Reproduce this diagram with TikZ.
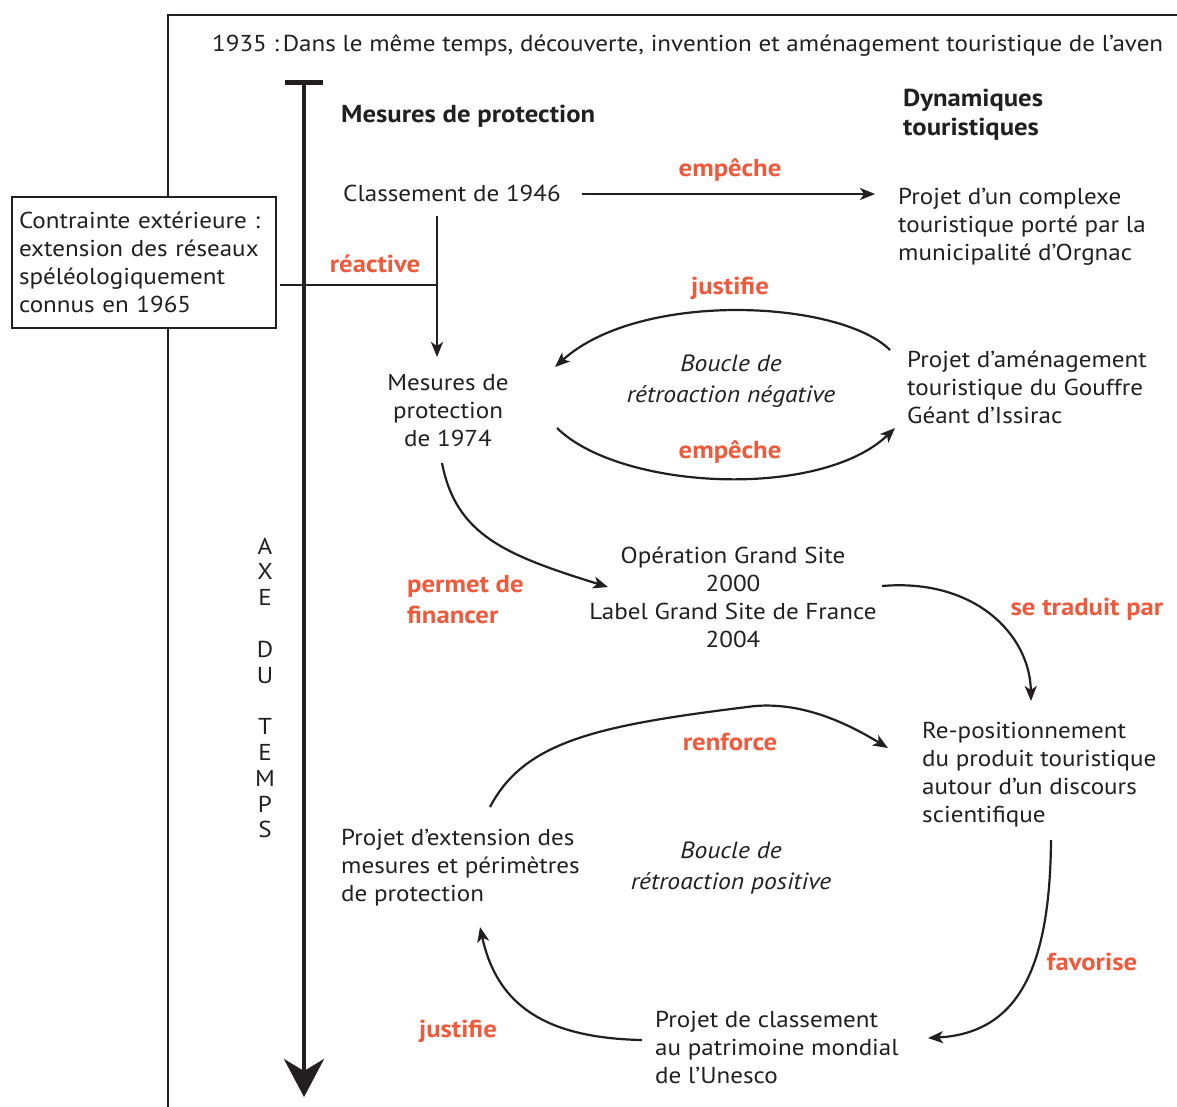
\documentclass[tikz,border=0pt]{standalone}
\usepackage{fontspec}
\setmainfont{PT Sans}[FakeStretch=1.09]
\usetikzlibrary{arrows.meta}
\definecolor{ink}{HTML}{231F20}
\definecolor{orng}{HTML}{EF5A3C}
\tikzset{
  txt/.style={font=\fontsize{23}{28}\selectfont, text=ink, align=left, inner sep=0pt},
  ctxt/.style={txt, align=center},
  itxt/.style={font=\fontsize{23.5}{31}\selectfont\itshape, text=ink, align=center, inner sep=0pt},
  head/.style={font=\fontsize{24.5}{29}\selectfont\bfseries, text=ink, align=left, inner sep=0pt},
  lbl/.style={font=\fontsize{24.5}{31}\selectfont\bfseries, text=orng, align=left, inner sep=0pt},
  conn/.style={draw=ink, line width=2.2pt, -{Stealth[length=15pt,width=12pt,inset=4pt]}},
  plain/.style={draw=ink, line width=2pt},
}
\begin{document}
\begin{tikzpicture}[x=1pt,y=-1pt]
\useasboundingbox (0,0) rectangle (1177,1106);
\fill[white] (0,0) rectangle (1177,1106);
% frame
\draw[ink, line width=1.6pt] (1180,15) -- (168,15) -- (168,1110);
% top text
\node[txt, anchor=west] (top) at (212,46) {1935 :\,Dans le même temps, découverte, invention et aménagement touristique de l'aven};
% time axis
\coordinate (tTop) at (304,82);
\coordinate (tBot) at (304,1097);
\draw[ink, line width=5pt] (285,82) -- (323,82);
\draw[ink, line width=4.5pt, -{Stealth[length=38pt,width=40pt,inset=12pt]}] (tTop) -- (tBot);
\node[font=\fontsize{23}{25.8}\selectfont, text=ink, align=center, inner sep=0pt] (axe) at (265,688) {A\\X\\E\\ \\D\\U\\ \\T\\E\\M\\P\\S};
% headings
\node[head, anchor=west] (hprot) at (341,116) {Mesures de protection};
\node[head, anchor=west] (hdyn) at (903,115) {Dynamiques\\touristiques};
% nodes
\node[txt, anchor=west] (c1946) at (343,193) {Classement de 1946};
\node[txt, anchor=west] (orgnac) at (898,227) {Projet d'un complexe\\touristique porté par la\\municipalité d'Orgnac};
\node[txt, anchor=west, draw=ink, line width=2pt, fill=white, text width=250pt, inner xsep=7pt, inner ysep=9pt, minimum height=131pt] (contr) at (11,262) {Contrainte extérieure~:\\extension des réseaux\\spéléologiquement\\connus en 1965};
\node[ctxt] (m1974) at (448,411) {Mesures de\\protection\\de 1974};
\node[txt, anchor=west] (issirac) at (907,387) {Projet d'aménagement\\touristique du Gouffre\\Géant d'Issirac};
\node[itxt] (bneg) at (731,381) {Boucle de\\rétroaction négative};
\node[ctxt] (ogs) at (733,597) {Opération Grand Site\\2000\\Label Grand Site de France\\2004};
\node[txt, anchor=west] (repos) at (922,775) {Re-positionnement\\du produit touristique\\autour d'un discours\\scientifique};
\node[txt, anchor=west] (ext) at (341,868) {Projet d'extension des\\mesures et périmètres\\de protection};
\node[itxt] (bpos) at (731,868) {Boucle de\\rétroaction positive};
\node[txt, anchor=west] (unesco) at (655,1047) {Projet de classement\\au patrimoine mondial\\de l'Unesco};
% labels
\node[lbl] (l1) at (730,170) {empêche};
\node[lbl] (l2) at (375,264) {réactive};
\node[lbl] (l3) at (730,288) {justifie};
\node[lbl] (l4) at (730,452) {empêche};
\node[lbl, anchor=west] (l5) at (407,600) {permet de\\financer};
\node[lbl] (l6) at (1087,609) {se traduit par};
\node[lbl] (l7) at (730,742) {renforce};
\node[lbl] (l8) at (1092,962) {favorise};
\node[lbl] (l9) at (458,1031) {justifie};
% connector end points
\coordinate (a1s) at (582,194); \coordinate (a1e) at (875,194);
\coordinate (a2s) at (437,216); \coordinate (a2e) at (437,357);
\coordinate (h1s) at (280,285); \coordinate (h1e) at (437,285);
\coordinate (a3s) at (890,350); \coordinate (a3e) at (555,367);
\coordinate (a4s) at (557,428); \coordinate (a4e) at (895,428);
\coordinate (a5s) at (442,463); \coordinate (a5e) at (608,587);
\coordinate (a6s) at (882,586); \coordinate (a6e) at (1031,701);
\coordinate (a7s) at (490,807); \coordinate (a7m) at (755,706); \coordinate (a7e) at (888,748);
\coordinate (a8s) at (1051,840); \coordinate (a8e) at (928,1038);
\coordinate (a9s) at (642,1040); \coordinate (a9e) at (480,927);
% connectors
\draw[conn] (a1s) -- (a1e);
\draw[plain] (h1s) -- (h1e);
\draw[conn] (a2s) -- (a2e);
\draw[conn] (a3s) .. controls (840,300) and (640,290) .. (a3e);
\draw[conn] (a4s) .. controls (620,490) and (820,500) .. (a4e);
\draw[conn] (a5s) .. controls (456,535) and (505,555) .. (a5e);
\draw[conn] (a6s) .. controls (975,578) and (1030,635) .. (a6e);
\draw[conn] (a7s) .. controls (525,740) and (600,725) .. (a7m) .. controls (805,702) and (850,725) .. (a7e);
\draw[conn] (a8s) .. controls (1050,965) and (1020,1033) .. (a8e);
\draw[conn] (a9s) .. controls (545,1038) and (497,1005) .. (a9e);
\end{tikzpicture}
\end{document}
